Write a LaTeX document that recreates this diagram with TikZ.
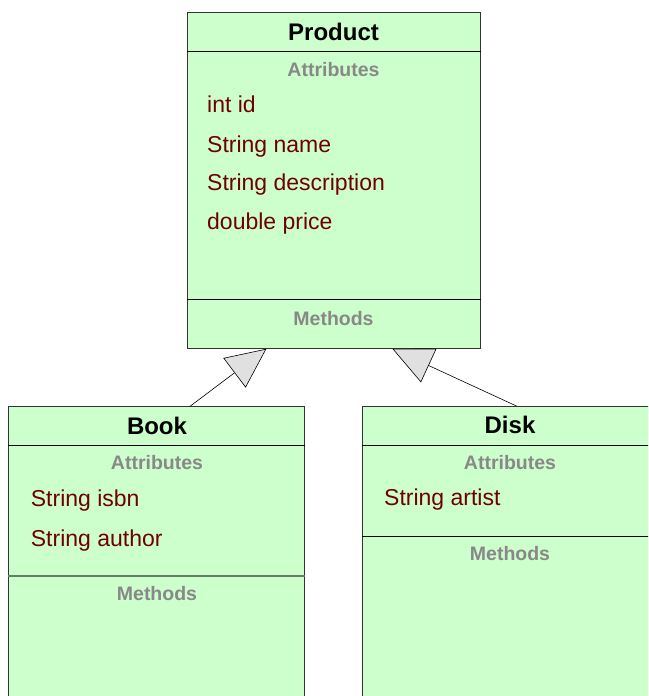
\documentclass[tikz,border=0pt]{standalone}
\usepackage{fontspec}
\setmainfont{Liberation Sans}
\usetikzlibrary{arrows.meta}
\definecolor{boxfill}{RGB}{204,255,204}
\definecolor{attrred}{RGB}{112,0,0}
\definecolor{headgray}{RGB}{136,136,136}
\definecolor{divgreen}{RGB}{100,128,100}
\definecolor{tipgray}{RGB}{224,224,224}

\begin{document}
\begin{tikzpicture}[x=1pt,y=-1pt,
  classbox/.style={draw=black!80,fill=boxfill,line width=0.8pt,rectangle,anchor=north west,inner sep=0pt},
  classname/.style={anchor=base,inner sep=0pt,font=\fontsize{24}{24}\selectfont\bfseries},
  part/.style={anchor=base,inner sep=0pt,text=headgray,font=\fontsize{19.5}{19.5}\selectfont\bfseries},
  member/.style={anchor=base west,inner sep=0pt,text=attrred,font=\fontsize{23}{23}\selectfont},
  inherit/.style={-{Triangle[length=40pt,width=37pt,fill=tipgray]},line width=0.6pt}]

\clip (0,0) rectangle (648,696);

  \node (P) at (187,12) [classbox,minimum width=293pt,minimum height=336pt] {};
  \node (B) at (8,406) [classbox,minimum width=296pt,minimum height=300pt] {};
  \node (D) at (362,406) [classbox,minimum width=296pt,minimum height=300pt] {};

% compartments
\draw[line width=0.8pt] ([yshift=-39pt]P.north west) -- ([yshift=-39pt]P.north east);
\draw[line width=0.8pt] ([yshift=-287pt]P.north west) -- ([yshift=-287pt]P.north east);
\draw[line width=0.8pt] ([yshift=-39pt]B.north west) -- ([yshift=-39pt]B.north east);
\draw[divgreen,line width=2pt] ([yshift=-170pt]B.north west) -- ([yshift=-170pt]B.north east);
\draw[line width=0.8pt] ([yshift=-39.5pt]D.north west) -- ([yshift=-39.5pt]D.north east);
\draw[line width=0.8pt] ([yshift=-130.5pt]D.north west) -- ([yshift=-130.5pt]D.north east);

  \node (Ptitle) at (333.5,40) [classname] {Product};
  \node (Pattr) at (333.5,76) [part] {Attributes};
  \node (Pid) at (207,112) [member] {int id};
  \node (Pname) at (207,152) [member] {String name};
  \node (Pdesc) at (207,190) [member] {String description};
  \node (Pprice) at (207,229) [member] {double price};
  \node (Pmeth) at (333.5,325) [part] {Methods};

  \node (Btitle) at (157,434) [classname] {Book};
  \node (Battr) at (157,469) [part] {Attributes};
  \node (Bisbn) at (30.7,506) [member] {String isbn};
  \node (Bauthor) at (30.7,546) [member] {String author};
  \node (Bmeth) at (157,600) [part] {Methods};

  \node (Dtitle) at (510,433) [classname] {Disk};
  \node (Dattr) at (510,469) [part] {Attributes};
  \node (Dartist) at (384,505.7) [member] {String artist};
  \node (Dmeth) at (510,560.7) [part] {Methods};

% generalisation
\draw[inherit] ([xshift=34pt]B.north) -- ([xshift=-67.5pt]P.south);
\draw[inherit] ([xshift=6pt]D.north) -- ([xshift=58.5pt]P.south);
\end{tikzpicture}
\end{document}
